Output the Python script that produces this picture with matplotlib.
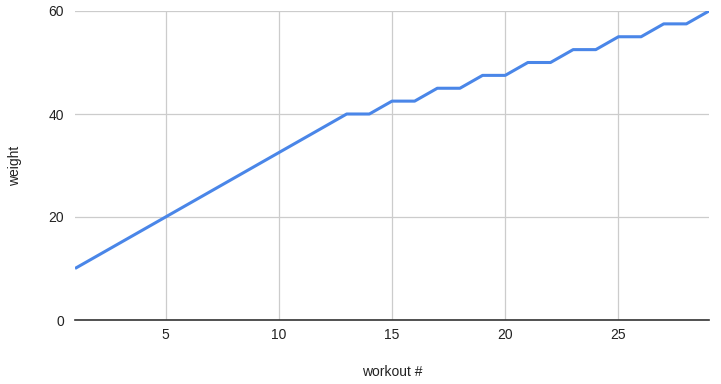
import matplotlib
matplotlib.use('Agg')
import matplotlib.pyplot as plt

# workout number vs weight
workouts = list(range(1, 30))
weights = [10, 12.5, 15, 17.5, 20, 22.5, 25, 27.5, 30, 32.5, 35, 37.5, 40,
           40, 42.5, 42.5, 45, 45, 47.5, 47.5, 50, 50, 52.5, 52.5,
           55, 55, 57.5, 57.5, 60]
xticks = [5, 10, 15, 20, 25]
yticks = [0, 20, 40, 60]

plt.rcParams['font.family'] = ['Liberation Sans', 'DejaVu Sans']

fig = plt.figure(figsize=(7.21, 3.84), dpi=100)
ax = fig.add_axes([75 / 721, 64 / 384, 634 / 721, 309 / 384])

ax.plot(workouts, weights, color='#4a86e8', lw=2.2, solid_capstyle='butt', zorder=3)

ax.set_xlim(1, 29)
ax.set_ylim(0, 60)
ax.set_xticks(xticks)
ax.set_yticks(yticks)
ax.grid(True, color='#cccccc', lw=0.9)
for s in ['top', 'right', 'left']:
    ax.spines[s].set_visible(False)
ax.spines['bottom'].set_color('#333333')
ax.spines['bottom'].set_linewidth(1.2)
ax.tick_params(length=0, labelsize=10, colors='#222222', pad=6)
ax.tick_params(axis='y', pad=8)

ax.set_xlabel('workout #', fontsize=10, color='#222222')
ax.set_ylabel('weight', fontsize=10, color='#222222')
ax.xaxis.set_label_coords(0.5, -0.168)
ax.yaxis.set_label_coords(-0.095, 0.5)
ax.xaxis.label.set_va('center')
ax.yaxis.label.set_va('center')

fig.savefig('out.png', dpi=100, facecolor='white')
